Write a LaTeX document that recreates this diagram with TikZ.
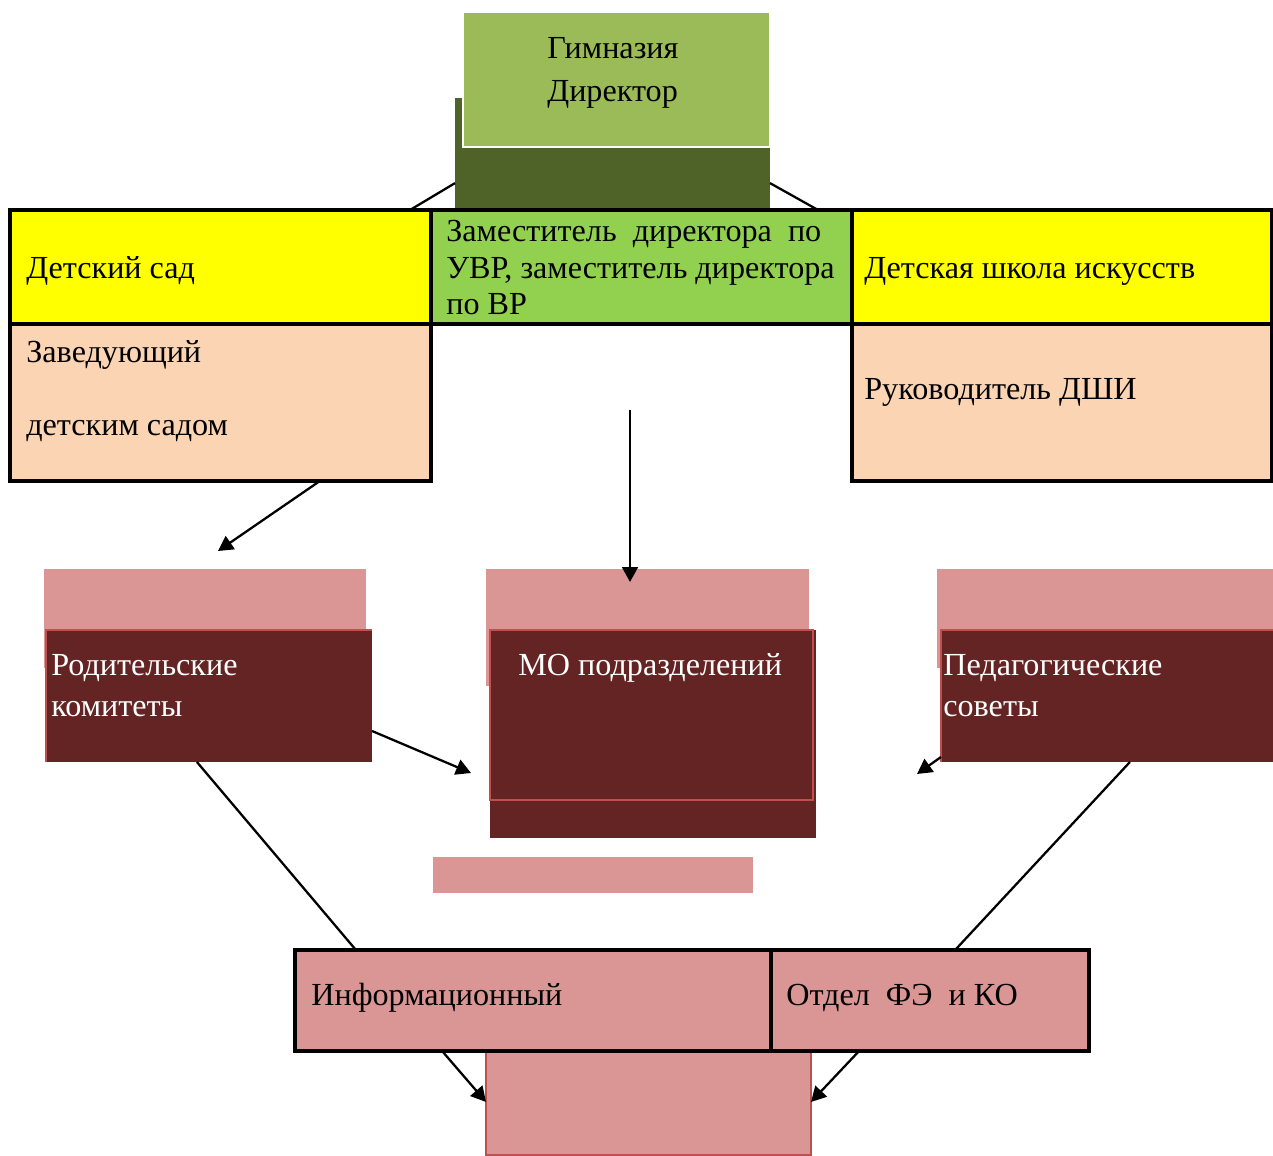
\documentclass[tikz,border=0pt]{standalone}
\usepackage{fontspec}
\setmainfont{Liberation Serif}
\usetikzlibrary{arrows.meta,positioning,calc}
\definecolor{olivedark}{HTML}{4F6228}
\definecolor{olivelight}{HTML}{9BBB59}
\definecolor{greenbox}{HTML}{92D050}
\definecolor{pureyellow}{HTML}{FFFF00}
\definecolor{peach}{HTML}{FBD4B4}
\definecolor{rose}{HTML}{D99694}
\definecolor{maroon}{HTML}{632423}
\definecolor{redline}{HTML}{C0504D}
\tikzset{sz/.style 2 args={minimum width=#1*0.02cm, minimum height=#2*0.02cm}}

\begin{document}
\begin{tikzpicture}[x=0.02cm, y=-0.02cm,
  blk/.style={rectangle, anchor=north west, inner sep=0pt, outer sep=0pt},
  cell/.style={blk, draw=black, line width=2.1pt},
  txt/.style={anchor=base west, inner sep=0pt, align=left, font=\fontsize{18.3}{21}\selectfont},
  wtxt/.style={txt, text=white, font=\fontsize{18.3}{23.2}\selectfont},
  arrow/.style={-{Triangle[length=8.5pt, width=9pt]}, line width=1.3pt},
  link/.style={line width=1.3pt}
]
\useasboundingbox (0,0) rectangle (1273,1155);

% Гимназия
\node[blk, sz={315}{112}, fill=olivedark] (olive) at (455,98) {};
\node[blk, sz={307}{135}, fill=olivelight, draw=white, line width=1pt] (gym) at (463,12) {};
\node[txt, font=\fontsize{18.3}{25}\selectfont] (tgym) at (547,102) {Гимназия\\Директор};

% связи к подразделениям
\draw[link] ($(olive.north west)!0.76!(olive.south west)$) -- (410,210) coordinate (sadtop);
\draw[link] ($(olive.north east)!0.76!(olive.south east)$) -- (818,210) coordinate (zamtop);

% верхняя таблица
\node[cell, sz={421}{114}, fill=pureyellow] (sad) at (10,210) {};
\node[cell, sz={421}{114}, fill=greenbox] (zam) at (431,210) {};
\node[cell, sz={420}{114}, fill=pureyellow] (dshi) at (852,210) {};
\node[cell, sz={421}{157}, fill=peach] (zav) at (10,324) {};
\node[cell, sz={420}{157}, fill=peach] (ruk) at (852,324) {};

\node[txt] (tsad) at (26,278) {Детский сад};
\node[txt] (tzam) at (446,315) {Заместитель\ \ директора\ \ по\\УВР, заместитель директора\\по ВР};
\node[txt] (tdshi) at (864,278) {Детская школа искусств};
\node[txt, font=\fontsize{18.3}{41}\selectfont] (tzav) at (26,435) {Заведующий\\детским садом};
\node[txt] (truk) at (864,399) {Руководитель ДШИ};

% средний ряд
\node[blk, sz={322}{99}, fill=rose] (rodback) at (44,569) {};
\node[blk, sz={326}{132}, fill=maroon] (rod) at (46,630) {};
\draw[redline, line width=1.2pt] (rod.south west) |- (rod.north east);

\node[blk, sz={323}{117}, fill=rose] (moback) at (486,569) {};
\node[blk, sz={326}{208}, fill=maroon] (mobase) at (490,630) {};
\node[blk, sz={323}{170}, draw=redline, line width=1.2pt] (mo) at (490,630) {};
\node[blk, sz={320}{36}, fill=rose] (mostrip) at (433,857) {};

\node[blk, sz={336}{99}, fill=rose] (pedback) at (937,569) {};
\node[blk, sz={332}{132}, fill=maroon] (ped) at (941,630) {};
\draw[redline, line width=1.2pt] (ped.south west) |- (ped.north east);

\node[wtxt] (trod) at (51,716) {Родительские\\комитеты};
\node[wtxt] (tmo) at (518,675) {МО подразделений};
\node[wtxt] (tped) at (943,716) {Педагогические\\советы};

% нижний ряд
\node[blk, sz={325}{104}, fill=rose, draw=redline, line width=0.6pt] (fin) at (486,1051) {};
\node[cell, sz={476}{101}, fill=rose] (info) at (295,950) {};
\node[cell, sz={318}{101}, fill=rose] (otdel) at (771,950) {};
\node[txt] (tinfo) at (311,1005) {Информационный};
\node[txt] (totdel) at (786,1005) {Отдел\ \ ФЭ\ \ и КО};

% стрелки
\coordinate (kgtip) at (218,551);
\draw[arrow] ($(zav.south west)!0.736!(zav.south east)$) -- (kgtip);
\coordinate (zamdown) at (630,410);
\draw[arrow] (zamdown) -- ($(zamdown |- moback.north)+(0,13)$);
\coordinate (rodtip) at (471,773);
\draw[arrow] ($(rod.north east)!0.765!(rod.south east)$) -- (rodtip);
\coordinate (pedtip) at (917,774);
\draw[arrow] ($(ped.north west)!0.962!(ped.south west)$) -- (pedtip);
\draw[link] ($(rod.south west)!0.463!(rod.south east)$) -- ($(info.north west)!0.128!(info.north east)$);
\draw[link] ($(ped.south west)!0.569!(ped.south east)$) -- ($(otdel.north west)!0.579!(otdel.north east)$);
\draw[arrow] ($(info.south west)!0.309!(info.south east)$) -- ($(fin.north west)!0.49!(fin.south west)$);
\draw[arrow] ($(otdel.south west)!0.277!(otdel.south east)$) -- ($(fin.north east)!0.49!(fin.south east)$);

\end{tikzpicture}
\end{document}
